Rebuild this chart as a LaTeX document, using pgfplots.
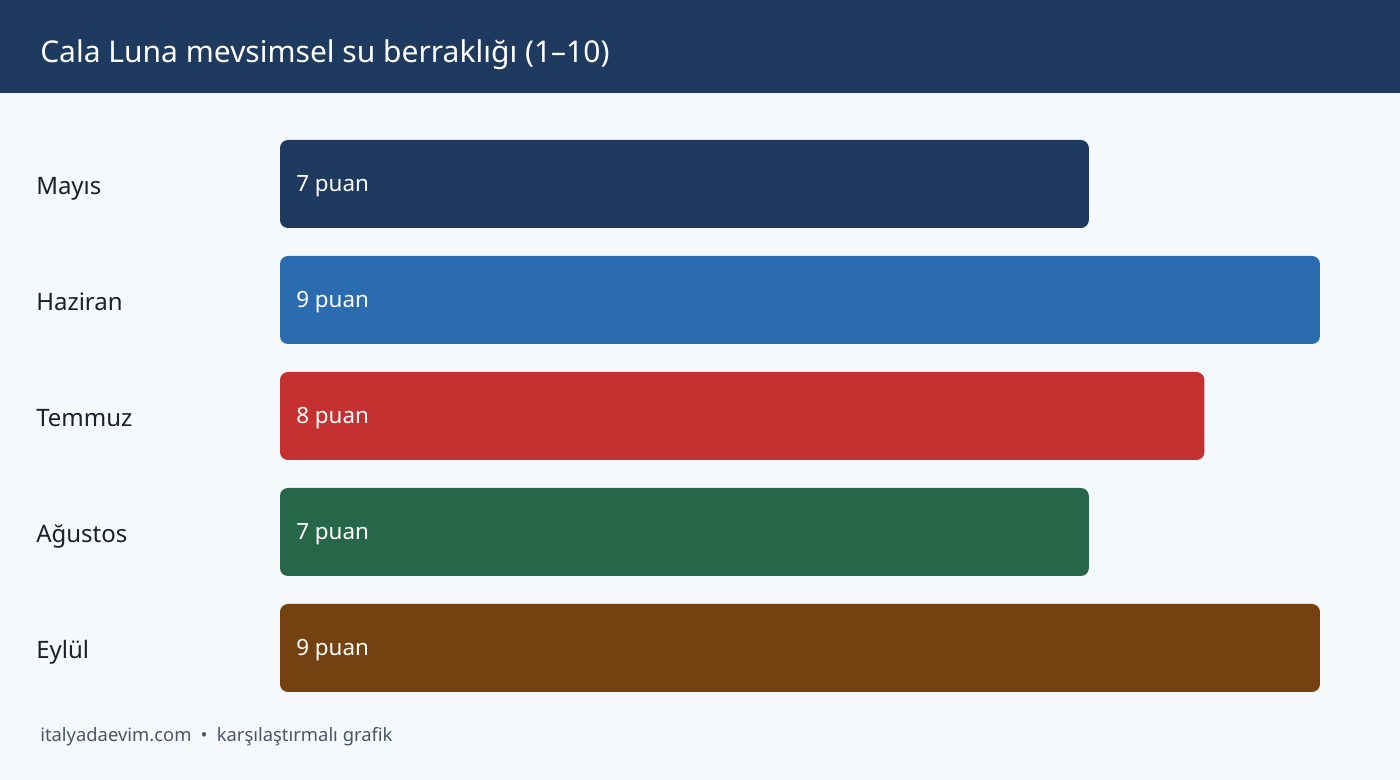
\documentclass[border=0pt]{standalone}
\usepackage{fontspec}
\setmainfont{Noto Sans}
\usepackage{pgfplots}
\pgfplotsset{compat=1.18}

\definecolor{pagebg}{HTML}{F5F9FC}
\definecolor{navy}{HTML}{1E3A5F}
\definecolor{barblue}{HTML}{2B6CB0}
\definecolor{barred}{HTML}{C53030}
\definecolor{bargreen}{HTML}{276749}
\definecolor{barbrown}{HTML}{744210}
\definecolor{labeltext}{HTML}{1A202C}
\definecolor{foottext}{HTML}{4A5568}

% one pixel of the reference = 0.75pt
\begin{document}
\begin{tikzpicture}[x=0.75pt,y=0.75pt]
\fill[pagebg] (0,0) rectangle (1400,780);
\fill[navy] (0,687) rectangle (1400,780);
\node[anchor=base west, inner sep=0, text=white, font=\fontsize{22.5}{26}\selectfont]
  at (40,717) {Cala Luna mevsimsel su berraklığı (1–10)};
\node[anchor=base west, inner sep=0, text=foottext, font=\fontsize{13.8}{16}\selectfont]
  at (40,38) {italyadaevim.com\enspace•\enspace karşılaştırmalı grafik};

\begin{axis}[
    at={(210pt,99pt)}, anchor=south west,
    scale only axis, width=780pt, height=348pt,
    xmin=0, xmax=9, ymin=0, ymax=4,
    y dir=reverse,
    clip=false,
    hide x axis,
    axis y line*=left,
    y axis line style={draw=none},
    major y tick style={draw=none},
    ytick={0,1,2,3,4},
    yticklabels={Mayıs, Haziran, Temmuz, Ağustos, Eylül},
    yticklabel style={anchor=base west, inner sep=0pt, xshift=-183pt, yshift=-8.25pt,
      text=labeltext, font=\fontsize{18}{21}\selectfont},
    every axis plot/.append style={xbar, bar width=66pt, bar shift=0pt, draw=none, rounded corners=6pt},
]
\addplot[fill=navy] coordinates {(7,0)};
\addplot[fill=barblue] coordinates {(9,1)};
\addplot[fill=barred] coordinates {(8,2)};
\addplot[fill=bargreen] coordinates {(7,3)};
\addplot[fill=barbrown] coordinates {(9,4)};
% value labels at the start of each bar
\addplot[draw=none, xbar=false, mark=none, point meta=explicit symbolic,
    nodes near coords,
    nodes near coords style={anchor=base west, inner sep=0pt, xshift=12pt, yshift=-6pt,
      text=white, font=\fontsize{16.8}{20}\selectfont}]
  coordinates {(0,0) [7 puan] (0,1) [9 puan] (0,2) [8 puan] (0,3) [7 puan] (0,4) [9 puan]};
\end{axis}
\pgfresetboundingbox
\useasboundingbox (0,0) rectangle (1400,780);
\end{tikzpicture}
\end{document}
